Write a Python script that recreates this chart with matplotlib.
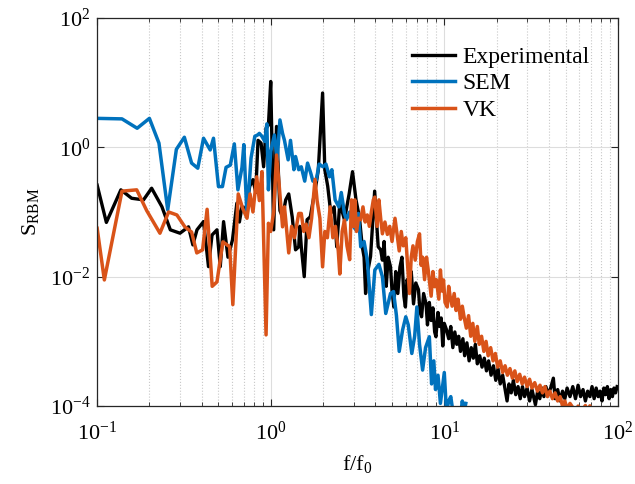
import matplotlib
matplotlib.use("Agg")
import matplotlib.pyplot as plt
from matplotlib.ticker import NullLocator, LogLocator

# ---------------- data ----------------

exp_f = [0.1, 0.113, 0.137, 0.158, 0.185, 0.206, 0.236, 0.264, 0.30, 0.336,
         0.356, 0.376, 0.41, 0.438, 0.459, 0.49, 0.512, 0.535, 0.567, 0.602,
         0.638, 0.66, 0.683, 0.72, 0.757, 0.79, 0.82, 0.845, 0.88, 0.91,
         0.94, 0.97, 1.0, 1.04, 1.08, 1.13, 1.17, 1.22, 1.27, 1.33,
         1.39, 1.45, 1.47, 1.5, 1.56, 1.62, 1.69, 1.76, 1.83, 1.88,
         1.99, 2.05, 2.13, 2.22, 2.32, 2.4, 2.5, 2.66, 2.83, 2.96,
         3.1, 3.24, 3.37, 3.45, 3.52, 3.6, 3.76, 3.97, 4.16, 4.3,
         4.4, 4.5, 4.63, 4.75, 4.9, 5.0, 5.12, 5.25, 5.4, 5.55,
         5.7, 5.85, 5.97, 6.1, 6.3, 6.45, 6.65, 6.85, 7.1, 7.25,
         7.4, 7.6, 7.85, 8.0, 8.2, 8.4, 8.6, 8.8, 8.95, 9.2,
         9.4, 9.6, 9.8, 10.0, 10.3, 10.6, 10.9, 11.2, 11.5, 11.8,
         12.1, 12.4, 12.8, 13.1, 13.5, 13.9, 14.3, 14.7, 15.1, 15.5,
         16.0, 16.5, 17.0, 17.5, 18.0, 18.6, 19.2, 19.8, 20.4, 21.0,
         21.7, 22.4, 23.0, 23.6, 24.3, 25.0, 25.8, 26.6, 27.4, 28.2,
         29.0, 30.0, 31.0, 32.0, 33.5, 34.5, 35.5, 36.5, 37.5, 38.5,
         39.5, 41.0, 42.5, 43.5, 45, 46.5, 48, 49.5, 51, 53,
         55, 57, 59, 61, 63, 65, 67, 69, 71, 73,
         75, 77, 79, 81, 83, 85, 87, 89, 91, 93,
         95, 97, 99]
exp_s = [0.26, 0.069, 0.22, 0.163, 0.154, 0.233, 0.121, 0.053, 0.047, 0.059,
         0.031, 0.053, 0.071, 0.0143, 0.044, 0.053, 0.0143, 0.071, 0.020, 0.037,
         0.137, 0.07, 0.121, 0.11, 0.25, 0.316, 0.2, 1.28, 1.16, 0.5,
         1.97, 2.2, 10.4, 0.053, 2.1, 0.105, 0.084, 0.154, 0.19, 0.084,
         0.026, 0.029, 0.06, 0.029, 0.0100, 0.076, 0.084, 0.154, 0.28, 0.45,
         6.9, 0.45, 0.25, 0.095, 0.12, 0.029, 0.137, 0.076, 0.19, 0.42,
         0.154, 0.084, 0.029, 0.02, 0.0055, 0.011, 0.0206, 0.21, 0.029, 0.026,
         0.018, 0.035, 0.0071, 0.02, 0.0142, 0.006, 0.0034, 0.012, 0.0055, 0.014,
         0.02, 0.005, 0.0034, 0.009, 0.0071, 0.012, 0.0038, 0.008, 0.0063, 0.0028,
         0.0024, 0.0055, 0.0038, 0.0018, 0.004, 0.0021, 0.0033, 0.0014, 0.00118, 0.0028,
         0.0017, 0.0023, 0.00085, 0.0019, 0.00151, 0.0011, 0.0017, 0.0008, 0.0014, 0.0009,
         0.0012, 0.0007, 0.0011, 0.0006, 0.00095, 0.0005, 0.0008, 0.00055, 0.0009, 0.00045,
         0.0006, 0.0004, 0.00055, 0.00035, 0.0005, 0.0003, 0.00042, 0.00025, 0.00038, 0.00022,
         0.0003, 0.00018, 0.00012, 0.00022, 0.00016, 0.00025, 0.00015, 0.0002, 0.00013, 0.0002,
         0.00014, 0.00019, 0.00012, 0.00018, 0.000105, 0.00017, 0.00013, 0.00019, 0.00014, 0.0002,
         0.00015, 0.00019, 0.00027, 0.00013, 0.00018, 0.00012, 0.00017, 0.00013, 0.00019, 0.00014,
         0.0002, 0.00013, 0.00021, 0.00014, 0.00018, 0.00012, 0.00017, 0.00014, 0.0002, 0.00013,
         0.00019, 0.00014, 0.00017, 0.00012, 0.00019, 0.00015, 0.0002, 0.00013, 0.00018, 0.00014,
         0.00019, 0.00016, 0.0002]

sem_f = [0.1, 0.139, 0.17, 0.2, 0.227, 0.255, 0.286, 0.318, 0.35, 0.38,
         0.41, 0.448, 0.468, 0.50, 0.527, 0.553, 0.585, 0.617, 0.647, 0.683,
         0.70, 0.73, 0.77, 0.81, 0.84, 0.86, 0.89, 0.925, 0.95, 0.97,
         1.0, 1.05, 1.09, 1.13, 1.17, 1.2, 1.26, 1.30, 1.36, 1.39,
         1.45, 1.5, 1.57, 1.63, 1.7, 1.75, 1.83, 1.9, 2.0, 2.08,
         2.18, 2.25, 2.35, 2.47, 2.55, 2.66, 2.73, 2.85, 3.0, 3.1,
         3.2, 3.3, 3.45, 3.6, 3.8, 3.98, 4.2, 4.4, 4.6, 4.9,
         5.1, 5.3, 5.5, 5.75, 6.0, 6.2, 6.5, 6.75, 6.95, 7.2,
         7.5, 7.8, 8.2, 8.45, 8.7, 8.9, 9.2, 9.5, 10.0, 10.3,
         10.6, 10.9, 11.3, 11.8, 12.3, 12.7, 13.0, 13.3]
sem_s = [2.8, 2.75, 1.97, 2.8, 1.16, 0.108, 0.93, 1.43, 0.57, 0.475,
         1.38, 0.91, 1.38, 0.247, 0.247, 0.49, 0.53, 1.13, 0.22, 0.49,
         1.1, 0.085, 0.68, 1.48, 1.55, 1.64, 1.48, 1.23, 2.3, 0.22,
         0.86, 1.55, 0.64, 2.65, 1.64, 1.28, 0.64, 1.28, 0.45, 0.72,
         0.45, 0.5, 0.3, 0.57, 0.4, 0.3, 0.31, 0.55, 0.5, 0.55,
         0.35, 0.45, 0.154, 0.12, 0.2, 0.095, 0.076, 0.1, 0.059, 0.053,
         0.095, 0.029, 0.035, 0.0183, 0.0026, 0.0127, 0.0155, 0.0100, 0.0027, 0.0055,
         0.0059, 0.0025, 0.0007, 0.0015, 0.0024, 0.0018, 0.00065, 0.0012, 0.0034, 0.0009,
         0.00036, 0.0008, 0.00118, 0.00022, 0.0005, 0.00018, 0.0003, 0.00011, 0.00033, 0.00008,
         0.00012, 0.00014, 0.00007, 0.00009, 0.00006, 0.00012, 0.00008, 0.00011]

vk_f = [0.1, 0.11, 0.139, 0.169, 0.193, 0.23, 0.258, 0.288, 0.32, 0.35,
        0.375, 0.405, 0.43, 0.46, 0.49, 0.53, 0.58, 0.605, 0.65, 0.69,
        0.73, 0.76, 0.79, 0.83, 0.86, 0.89, 0.94, 0.97, 1.0, 1.04,
        1.08, 1.12, 1.17, 1.2, 1.22, 1.27, 1.32, 1.37, 1.45, 1.5,
        1.55, 1.6, 1.66, 1.72, 1.8, 1.85, 1.92, 1.99, 2.05, 2.12,
        2.2, 2.28, 2.36, 2.45, 2.5, 2.58, 2.66, 2.75, 2.85, 2.92,
        3.0, 3.05, 3.12, 3.2, 3.3, 3.4, 3.5, 3.6, 3.7, 3.8,
        3.9, 3.98, 4.1, 4.2, 4.3, 4.4, 4.55, 4.7, 4.85, 5.0,
        5.2, 5.35, 5.5, 5.65, 5.8, 6.0, 6.15, 6.3, 6.45, 6.6,
        6.8, 7.0, 7.2, 7.35, 7.5, 7.7, 7.9, 8.1, 8.4, 8.6,
        8.8, 9.0, 9.3, 9.5, 9.7, 9.9, 10.1, 10.4, 10.6, 10.8,
        11.1, 11.4, 11.7, 12.0, 12.4, 12.7, 13.0, 13.4, 13.8, 14.2,
        14.6, 15.0, 15.5, 15.9, 16.4, 16.9, 17.4, 17.9, 18.5, 19.1,
        19.7, 20.3, 21.0, 21.7, 22.4, 23.1, 23.9, 24.7, 25.5, 26.3,
        27.2, 28.1, 29.0, 30.0, 31.0, 32.0, 33.2, 34.4, 35.6, 36.8,
        38.0, 39.3, 40.6, 42.0, 43.5, 45.0, 46.5, 48.0, 49.5, 51,
        53, 55, 57, 59, 61, 63, 65, 67, 69, 71]
vk_s = [0.056, 0.0089, 0.21, 0.22, 0.105, 0.047, 0.1, 0.09, 0.059, 0.049,
        0.0233, 0.026, 0.11, 0.0071, 0.0083, 0.0345, 0.029, 0.0037, 0.19, 0.113,
        0.08, 0.19, 0.1, 0.35, 0.15, 0.42, 0.00126, 0.067, 0.05, 0.1,
        0.76, 0.25, 0.059, 0.12, 0.076, 0.0233, 0.06, 0.04, 0.095, 0.095,
        0.05, 0.065, 0.04, 0.08, 0.32, 0.15, 0.08, 0.0142, 0.05, 0.04,
        0.12, 0.04, 0.06, 0.025, 0.011, 0.05, 0.075, 0.03, 0.0183, 0.154,
        0.06, 0.154, 0.05, 0.08, 0.076, 0.12, 0.07, 0.09, 0.06, 0.1,
        0.154, 0.17, 0.06, 0.154, 0.08, 0.046, 0.07, 0.045, 0.06, 0.035,
        0.08, 0.045, 0.025, 0.05, 0.03, 0.04, 0.015, 0.0055, 0.02, 0.03,
        0.018, 0.035, 0.046, 0.015, 0.02, 0.009, 0.02, 0.012, 0.005, 0.012,
        0.007, 0.009, 0.0045, 0.0127, 0.006, 0.0089, 0.004, 0.0034, 0.0071, 0.005,
        0.0035, 0.0055, 0.003, 0.0045, 0.0022, 0.0035, 0.0024, 0.0016, 0.0025, 0.0012,
        0.0019, 0.001, 0.0017, 0.0009, 0.0012, 0.0007, 0.001, 0.0006, 0.0008, 0.0005,
        0.00065, 0.0004, 0.0005, 0.00033, 0.00042, 0.0003, 0.00038, 0.00027, 0.00035, 0.00024,
        0.00031, 0.00022, 0.00028, 0.0002, 0.00026, 0.00019, 0.00023, 0.00017, 0.00021, 0.00016,
        0.0002, 0.00014, 0.00017, 0.00013, 0.00016, 0.00012, 0.00014, 0.0001, 0.00012, 0.00009,
        0.00011, 0.000095, 0.00008, 0.0001, 0.00008, 0.00009, 0.000102, 0.00008, 0.000101, 0.00007]

# ---------------- style ----------------

plt.rcParams['font.family'] = ['Liberation Serif', 'DejaVu Serif']
plt.rcParams['mathtext.fontset'] = 'custom'
plt.rcParams['mathtext.rm'] = 'Liberation Serif'
plt.rcParams['mathtext.it'] = 'Liberation Serif:italic'

fig = plt.figure(figsize=(6.35, 4.84), dpi=100)
ax = fig.add_axes([0.153, 0.161, 0.820, 0.802])

ax.plot(exp_f, exp_s, color='black', lw=2.4, label='Experimental')
ax.plot(sem_f, sem_s, color='#0072BD', lw=2.5, label='SEM')
ax.plot(vk_f, vk_s, color='#D95319', lw=2.5, label='VK')

ax.set_xscale('log')
ax.set_yscale('log')
ax.set_xlim(0.1, 100)
ax.set_ylim(1e-4, 1e2)
ax.set_yticks([1e-4, 1e-2, 1e0, 1e2])
ax.yaxis.set_minor_locator(NullLocator())
ax.xaxis.set_minor_locator(LogLocator(base=10, subs=range(2, 10)))

ax.grid(which='major', color='#dddddd', lw=0.8)
ax.grid(which='minor', axis='x', color='#c8c8c8', ls=':', lw=0.8)
ax.set_axisbelow(True)

ax.tick_params(which='both', direction='in', top=True, right=True,
               labelsize=16, color='#262626')
ax.tick_params(which='major', length=5)
ax.tick_params(which='minor', length=3)
ax.tick_params(axis='x', which='major', pad=11)
ax.tick_params(axis='y', which='major', pad=5)
for sp in ax.spines.values():
    sp.set_color('#262626')
    sp.set_linewidth(0.9)

ax.set_xlabel('f/f$_0$', fontsize=16, labelpad=6)
ax.set_ylabel('S$_{\\mathrm{RBM}}$', fontsize=16, labelpad=6)

ax.legend(loc='upper right', frameon=False, fontsize=17,
          handlelength=1.85, handletextpad=0.3, labelspacing=0.22,
          borderaxespad=0.8, borderpad=0.4)

fig.savefig('out.png', dpi=100)
